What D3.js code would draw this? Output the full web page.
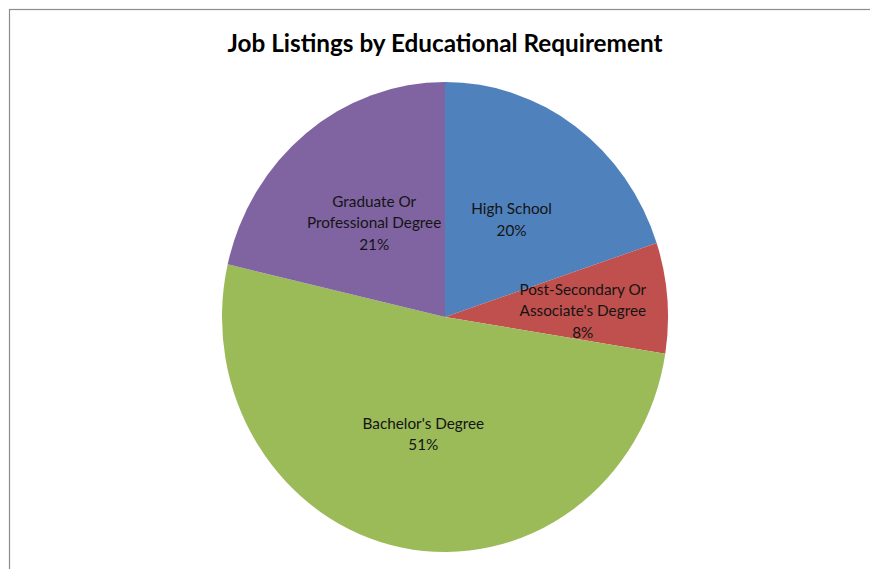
<!DOCTYPE html>
<html>
  <head>
    <title>Job Listings</title>
    <script src="https://cdn.jsdelivr.net/npm/d3@7"></script>
    <style>
      body { margin: 0; background: #fff; }
      text { font-family: Lato, "Open Sans", sans-serif; }
    </style>
  </head>
  <body>
    <svg width="870" height="569" id="mainsvg"></svg>
    <script>
      // data
      const categories = ['High School', 'Post-Secondary Or Associate\'s Degree', 'Bachelor\'s Degree', 'Graduate Or Professional Degree'];
      const values = [19.9, 7.6, 51.1, 21.4];
      // label line breaks as shown
      const labelLines = [['High School'], ['Post-Secondary Or', 'Associate\'s Degree'], ['Bachelor\'s Degree'], ['Graduate Or', 'Professional Degree']];
      const colors = ['#4F81BD', '#C0504D', '#9BBB59', '#8064A2'];
      const title = 'Job Listings by Educational Requirement';

      const svg = d3.select('#mainsvg');
      const width = +svg.attr('width');
      const height = +svg.attr('height');

      // chart frame
      svg.append('rect')
        .attr('x', 9.5).attr('y', 9.5)
        .attr('width', width + 10).attr('height', height + 10)
        .attr('fill', 'none').attr('stroke', '#8c8c8c').attr('stroke-width', 1.2);

      svg.append('text')
        .attr('x', 445).attr('y', 52)
        .attr('text-anchor', 'middle')
        .attr('font-size', 24.3).attr('font-weight', 'bold')
        .attr('fill', '#000')
        .text(title);

      const cx = 445, cy = 317, R = 235, sx = 223 / 235;
      const data = categories.map((c, i) => ({name: c, value: values[i], lines: labelLines[i], color: colors[i]}));
      const total = d3.sum(values);

      const pie = d3.pie().value(d => d.value).sort(null);
      const arc = d3.arc().innerRadius(0).outerRadius(R);
      const arcs = pie(data);

      const g = svg.append('g')
        .attr('transform', `translate(${cx}, ${cy}) scale(${sx}, 1)`);

      g.selectAll('path').data(arcs).join('path')
        .attr('d', arc)
        .attr('fill', d => d.data.color);

      const fmt = v => Math.round(v / total * 100) + '%';
      const lg = svg.append('g').attr('transform', `translate(${cx}, ${cy})`);
      const lineH = 21.5;
      arcs.forEach(a => {
        const share = a.data.value / total;
        const lr = share < 0.1 ? R * 0.62 : R * 0.51;
        const mid = (a.startAngle + a.endAngle) / 2;
        const x = Math.sin(mid) * lr * sx;
        const y = -Math.cos(mid) * lr + (share < 0.1 ? 6 : 0);
        const lines = a.data.lines.concat([fmt(a.data.value)]);
        const t = lg.append('text')
          .attr('text-anchor', 'middle')
          .attr('font-size', 15.3)
          .attr('fill', '#141414');
        lines.forEach((l, i) => {
          t.append('tspan')
            .attr('x', x)
            .attr('y', y + (i - (lines.length - 1) / 2) * lineH + 5)
            .text(l);
        });
      });
    </script>
  </body>
</html>
